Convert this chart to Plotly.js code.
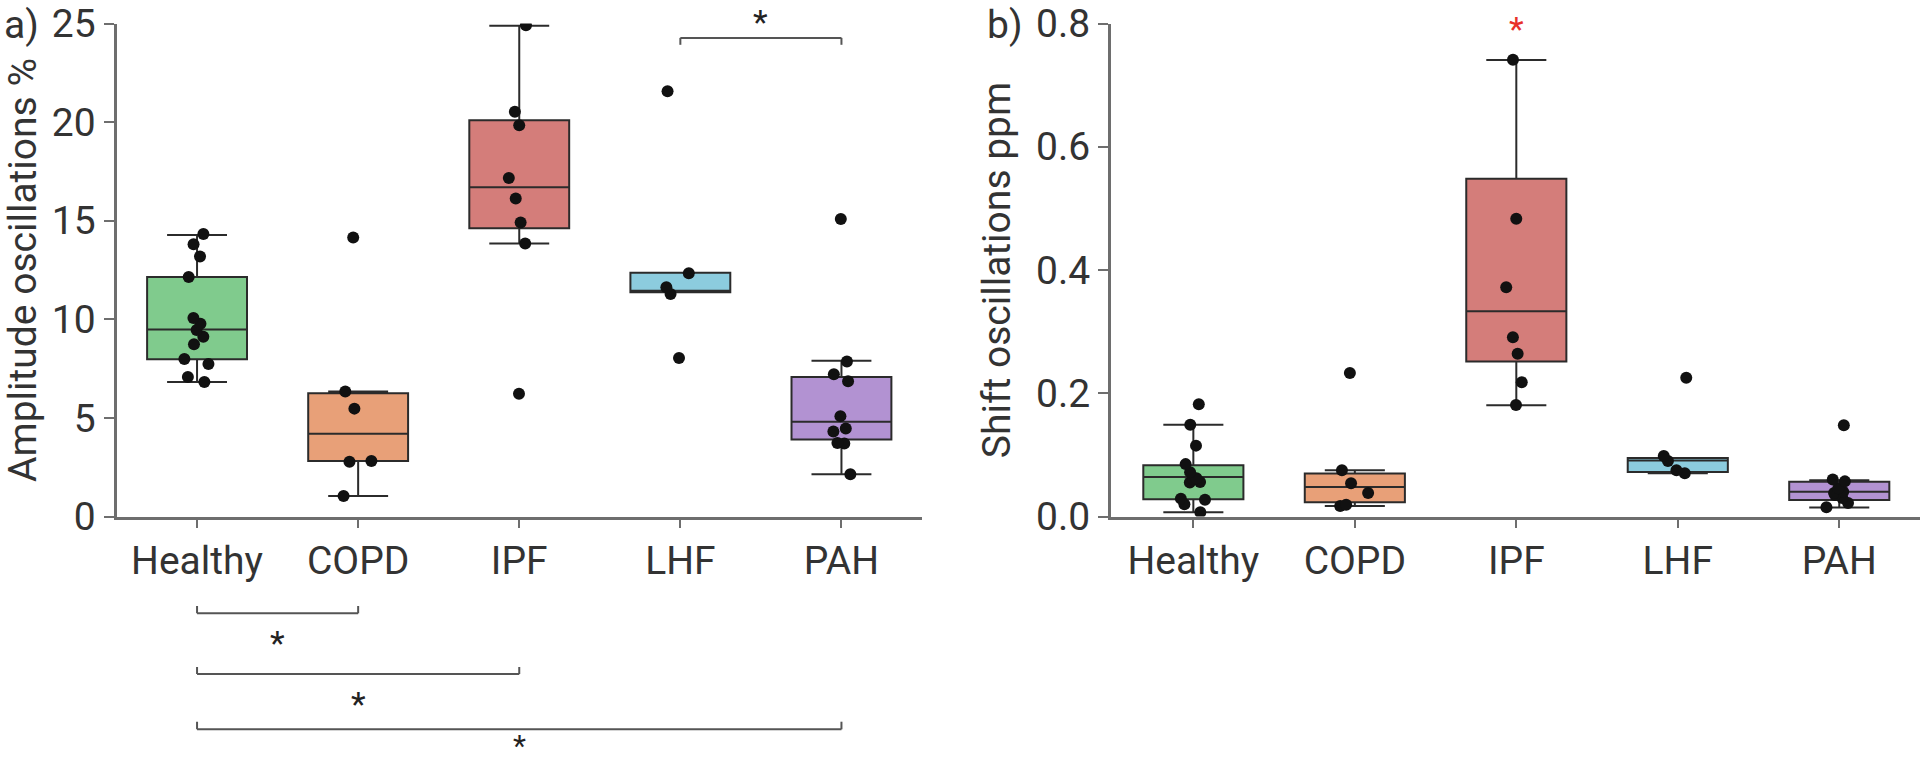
<!DOCTYPE html>
<html>
<head>
<meta charset="utf-8">
<script src="https://cdn.plot.ly/plotly-3.0.1.min.js"></script>
<style>html,body{margin:0;padding:0;background:#fff;}#chart{width:1920px;height:765px;}</style>
</head>
<body>
<div id="chart"></div>
<script>
// ---------------- data ----------------
const categories = ['Healthy', 'COPD', 'IPF', 'LHF', 'PAH'];

// a) Amplitude oscillations % : individual points
const ampHealthy = [14.32, 13.8, 13.19, 12.15, 10.07, 9.77, 9.46, 9.11, 8.73, 7.99, 7.73, 7.07, 6.82];
const ampCOPD    = [14.15, 6.34, 5.47, 2.82, 2.78, 1.04];
const ampIPF     = [24.91, 20.52, 19.84, 17.17, 16.13, 14.91, 13.84, 6.23];
const ampLHF     = [21.56, 12.33, 11.63, 11.28, 8.04];
const ampPAH     = [15.09, 7.86, 7.21, 6.86, 5.09, 4.46, 4.31, 3.73, 3.70, 2.14];
// a) box statistics (Healthy, COPD, IPF, LHF, PAH)
const ampQ1     = [7.97, 2.81, 14.62, 11.37, 3.91];
const ampMedian = [9.48, 4.20, 16.70, 11.45, 4.81];
const ampQ3     = [12.14, 6.25, 20.09, 12.36, 7.07];
const ampLower  = [6.82, 1.04, 13.84, 11.37, 2.14];
const ampUpper  = [14.27, 6.34, 24.88, 12.36, 7.90];

// b) Shift oscillations ppm : individual points
const shiftHealthy = [0.182, 0.149, 0.115, 0.085, 0.072, 0.062, 0.061, 0.056, 0.055, 0.029, 0.027, 0.020, 0.007];
const shiftCOPD    = [0.233, 0.075, 0.054, 0.038, 0.019, 0.017];
const shiftIPF     = [0.741, 0.483, 0.372, 0.291, 0.264, 0.218, 0.181];
const shiftLHF     = [0.225, 0.098, 0.090, 0.075, 0.070];
const shiftPAH     = [0.148, 0.060, 0.057, 0.046, 0.040, 0.038, 0.035, 0.030, 0.022, 0.015];
// b) box statistics
const shiftQ1     = [0.028, 0.023, 0.2517, 0.0723, 0.0266];
const shiftMedian = [0.064, 0.048, 0.333, 0.091, 0.040];
const shiftQ3     = [0.083, 0.0697, 0.548, 0.095, 0.0562];
const shiftLower  = [0.007, 0.017, 0.1806, 0.070, 0.0148];
const shiftUpper  = [0.149, 0.075, 0.7406, 0.095, 0.0589];

const yTicksA = [0, 5, 10, 15, 20, 25];
const yTicksB = [0, 0.2, 0.4, 0.6, 0.8];

// significance brackets: [from category, to category]
const sigA_bottom = [['Healthy', 'COPD'], ['Healthy', 'IPF'], ['Healthy', 'PAH']];
const sigA_top = [['LHF', 'PAH']];
const sigB_star = ['IPF'];

// ---------------- styling ----------------
const fillColors = ['#80cb8d', '#e8a078', '#d47d7a', '#8cccde', '#b292d2'];
const W = 1920, H = 765;
const FONT = 'Roboto, "DejaVu Sans", sans-serif';
const FS = 39;
const AXC = '#6e6e6e';
const TXT = '#333333';
const fx = px => px / W;
const fy = px => 1 - px / H;

const ampPoints = [ampHealthy, ampCOPD, ampIPF, ampLHF, ampPAH];
const shiftPoints = [shiftHealthy, shiftCOPD, shiftIPF, shiftLHF, shiftPAH];

function boxTraces(stats, xa, ya) {
  return categories.map((c, i) => ({
    type: 'box', x: [c], xaxis: xa, yaxis: ya,
    q1: [stats.q1[i]], median: [stats.med[i]], q3: [stats.q3[i]],
    lowerfence: [stats.lo[i]], upperfence: [stats.hi[i]],
    boxpoints: false, width: 0.62, whiskerwidth: 0.6,
    fillcolor: fillColors[i],
    line: { color: '#2b2b2b', width: 2 },
    showlegend: false, hoverinfo: 'skip'
  }));
}
function pointTrace(groups, xa, ya) {
  const xs = [], ys = [];
  groups.forEach((g, i) => g.forEach(v => { xs.push(categories[i]); ys.push(v); }));
  return {
    type: 'box', x: xs, y: ys, xaxis: xa, yaxis: ya,
    boxpoints: 'all', jitter: 0.3, pointpos: 0, width: 0.62,
    fillcolor: 'rgba(0,0,0,0)', line: { color: 'rgba(0,0,0,0)', width: 0 },
    whiskerwidth: 0,
    marker: { color: '#111111', size: 12, line: { width: 0 } },
    showlegend: false, hoverinfo: 'y'
  };
}

const data = [
  ...boxTraces({ q1: ampQ1, med: ampMedian, q3: ampQ3, lo: ampLower, hi: ampUpper }, 'x', 'y'),
  pointTrace(ampPoints, 'x', 'y'),
  ...boxTraces({ q1: shiftQ1, med: shiftMedian, q3: shiftQ3, lo: shiftLower, hi: shiftUpper }, 'x2', 'y2'),
  pointTrace(shiftPoints, 'x2', 'y2')
];

const yDom = [fy(516.5), fy(23.5)];
const tickFont = { family: FONT, size: FS, color: TXT };
const xBase = {
  type: 'category', categoryorder: 'array', categoryarray: categories,
  showline: true, linecolor: AXC, linewidth: 3,
  ticks: 'outside', ticklen: 8, tickwidth: 2, tickcolor: AXC,
  showgrid: false, zeroline: false, tickfont: tickFont, fixedrange: true
};
const yBase = {
  showline: true, linecolor: AXC, linewidth: 3,
  ticks: 'outside', ticklen: 10, tickwidth: 2, tickcolor: AXC,
  showgrid: false, zeroline: false, tickfont: tickFont, fixedrange: true,
  ticklabeloverflow: 'allow',
  domain: yDom
};

const shapes = [];
const annotations = [];
const lineStyle = { color: '#555555', width: 2 };
function bracket(xref, a, b, yLine, yTick) {
  const i0 = categories.indexOf(a), i1 = categories.indexOf(b);
  shapes.push({ type: 'line', xref, yref: 'paper', x0: i0, x1: i1, y0: fy(yLine), y1: fy(yLine), line: lineStyle });
  shapes.push({ type: 'line', xref, yref: 'paper', x0: i0, x1: i0, y0: fy(yLine), y1: fy(yTick), line: lineStyle });
  shapes.push({ type: 'line', xref, yref: 'paper', x0: i1, x1: i1, y0: fy(yLine), y1: fy(yTick), line: lineStyle });
  return (i0 + i1) / 2;
}
function star(xref, xpos, yCenter, color, size) {
  annotations.push({ xref, yref: 'paper', x: xpos, y: fy(yCenter + 6), text: '*', showarrow: false,
    xanchor: 'center', yanchor: 'middle', font: { family: FONT, size: size || 34, color } });
}
const bottomLines = [[613.3, 606], [674, 667], [729.3, 721.7]];
const bottomStars = [636.7, 698.3, 745];
sigA_bottom.forEach((p, k) => {
  const mid = bracket('x', p[0], p[1], bottomLines[k][0], bottomLines[k][1]);
  if (k === sigA_bottom.length - 1) {
    // last star sits at the bottom edge: anchor its box to the page bottom
    annotations.push({ xref: 'x', yref: 'paper', x: mid, y: 0, text: '*', showarrow: false,
      xanchor: 'center', yanchor: 'bottom', font: { family: FONT, size: 30, color: '#222222' } });
  } else {
    star('x', mid, bottomStars[k], '#222222');
  }
});
sigA_top.forEach(p => {
  const mid = bracket('x', p[0], p[1], 37.9, 44.8);
  star('x', mid, 15.5, '#222222');
});
sigB_star.forEach(c => star('x2', categories.indexOf(c), 23.4, '#e8302a'));

annotations.push({ xref: 'paper', yref: 'paper', x: fx(21), y: 1, text: 'a)', showarrow: false,
  xanchor: 'center', yanchor: 'top', font: { family: FONT, size: FS, color: TXT } });
annotations.push({ xref: 'paper', yref: 'paper', x: fx(1004), y: 1, text: 'b)', showarrow: false,
  xanchor: 'center', yanchor: 'top', font: { family: FONT, size: FS, color: TXT } });

const layout = {
  width: W, height: H,
  margin: { l: 0, r: 0, t: 0, b: 0 },
  paper_bgcolor: '#ffffff', plot_bgcolor: '#ffffff',
  boxmode: 'overlay',
  font: { family: FONT, size: FS, color: TXT },
  xaxis: Object.assign({}, xBase, { domain: [fx(116.5), fx(922)], range: [-0.5, 4.5], anchor: 'y' }),
  yaxis: Object.assign({}, yBase, { range: [0, 25], tickvals: yTicksA, anchor: 'x',
    title: { text: 'Amplitude oscillations %', font: { family: FONT, size: FS, color: TXT }, standoff: 14 } }),
  xaxis2: Object.assign({}, xBase, { domain: [fx(1111), 1], range: [-0.51, 4.5], anchor: 'y2' }),
  yaxis2: Object.assign({}, yBase, { range: [0, 0.8], tickvals: yTicksB, tickformat: '.1f', anchor: 'x2',
    title: { text: 'Shift oscillations ppm', font: { family: FONT, size: FS, color: TXT }, standoff: 14 } }),
  shapes, annotations
};

Plotly.newPlot('chart', data, layout, { staticPlot: true, displayModeBar: false });
</script>
</body>
</html>
